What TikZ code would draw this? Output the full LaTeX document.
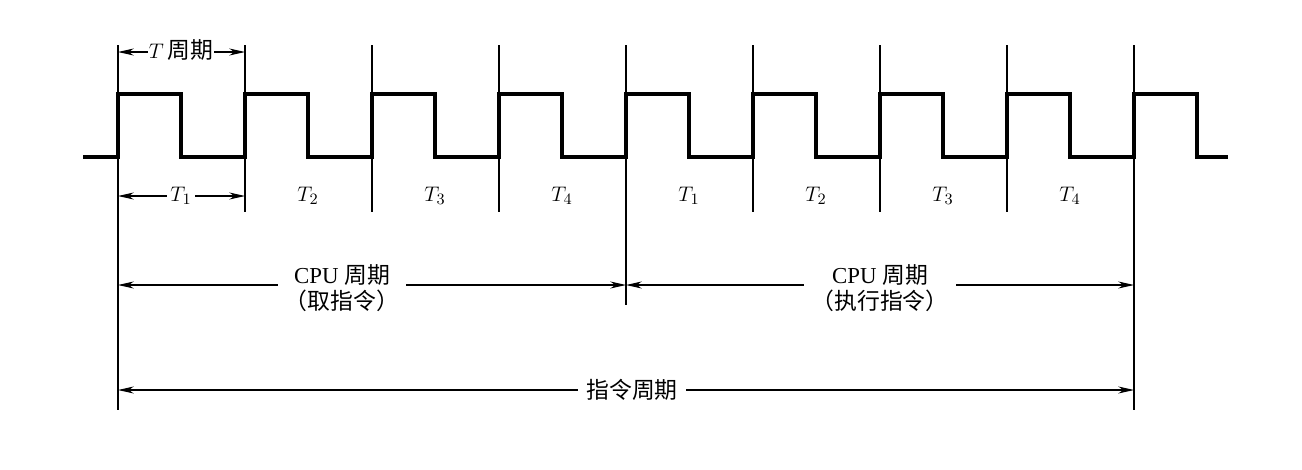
\documentclass[tikz,border=0pt]{standalone}
\usepackage{fontspec}
\setmainfont{Liberation Serif}
\newfontfamily\cjk{Noto Sans CJK SC}
\usetikzlibrary{arrows.meta}
\tikzset{
  tick/.style={line width=0.6pt},
  dim/.style={{Stealth[length=9pt,width=4pt]}-{Stealth[length=9pt,width=4pt]}, line width=0.6pt},
  lbl/.style={fill=white, inner sep=2pt, font=\fontsize{13}{15}\selectfont}
}
\begin{document}
\begin{tikzpicture}[x=0.02cm, y=-0.02cm]
\useasboundingbox (0,0) rectangle (1302,470);
% Clock waveform
\draw[line width=2pt] (83,157) -- (118,157)
  \foreach \k in {0,...,8} {
    -- ({118+127*\k},94) -- ({181+127*\k},94) -- ({181+127*\k},157)
    \ifnum\k<8 -- ({245+127*\k},157) \fi
  } -- (1228,157);

% Tick lines
\foreach \k in {0,...,8} \coordinate (t\k) at ({118+127*\k},45);
\foreach \k in {1,2,3,5,6,7} \draw[tick] (t\k) -- ++(0,167);
\draw[tick] (t0) -- ++(0,365);
\draw[tick] (t8) -- ++(0,365);
\draw[tick] (t4) -- ++(0,260);

% Beat labels
\foreach \k/\n in {0/1,1/2,2/3,3/4,4/1,5/2,6/3,7/4}
  \node[lbl] (b\k) at ({181+127*\k},196) {$T_{\n}$};
\coordinate (p0) at (118,196);
\coordinate (p1) at (245,196);
\draw[dim] (p0) -- (p1);
\node[lbl] at (181,196) {$T_{1}$};

% T period
\coordinate (q0) at (118,52);
\coordinate (q1) at (245,52);
\draw[dim] (q0) -- (q1);
\node[lbl, inner sep=0.5pt] (tp) at (181,50) {$T$\,{\cjk 周期}};

% CPU cycles
\coordinate (c0) at (118,285);
\coordinate (c1) at (626,285);
\coordinate (c2) at (1134,285);
\draw[dim] (c0) -- (c1);
\draw[dim] (c1) -- (c2);
\node[lbl, align=center, inner sep=4pt] (fetch) at (342,288) {CPU {\cjk 周期}\\{\cjk （取指令）}};
\node[lbl, align=center, inner sep=4pt] (exec) at (880,288) {CPU {\cjk 周期}\\{\cjk （执行指令）}};

% Instruction cycle
\coordinate (i0) at (118,390);
\coordinate (i1) at (1134,390);
\draw[dim] (i0) -- (i1);
\node[lbl, inner sep=5pt] (instr) at (632,390) {\cjk 指令周期};
\end{tikzpicture}
\end{document}
